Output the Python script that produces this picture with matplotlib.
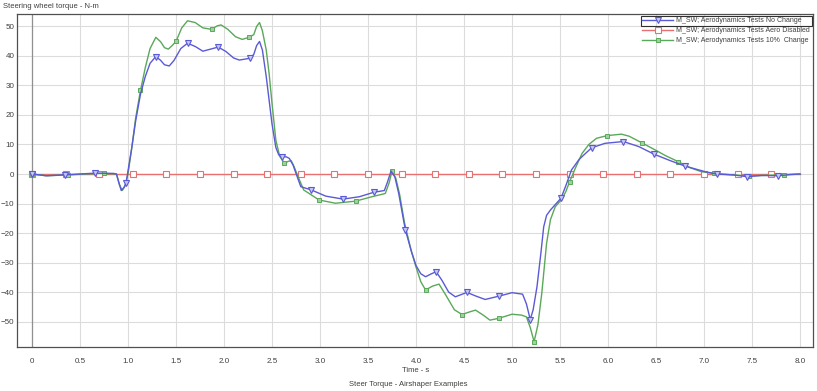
import matplotlib
matplotlib.use("Agg")
import matplotlib.pyplot as plt
from matplotlib.patches import Rectangle

# ---------------- data ----------------
blue_t = [0.00, 0.15, 0.34, 0.50, 0.66, 0.85, 0.88, 0.91, 0.93, 0.96, 0.98, 1.01, 1.04, 1.08,
          1.13, 1.18, 1.23, 1.29, 1.34, 1.38, 1.43, 1.48, 1.55, 1.62, 1.70, 1.78, 1.86, 1.94,
          2.02, 2.10, 2.16, 2.27, 2.31, 2.34, 2.37, 2.40, 2.44, 2.47, 2.50, 2.54, 2.57, 2.60,
          2.65, 2.68, 2.72, 2.75, 2.80, 2.91, 3.06, 3.24, 3.41, 3.56, 3.67, 3.70, 3.74, 3.78,
          3.82, 3.87, 3.89, 3.95, 4.00, 4.05, 4.10, 4.16, 4.21, 4.27, 4.34, 4.41, 4.53, 4.62,
          4.72, 4.86, 5.00, 5.11, 5.15, 5.19, 5.22, 5.26, 5.30, 5.33, 5.36, 5.40, 5.51, 5.56,
          5.62, 5.70, 5.83, 5.97, 6.16, 6.32, 6.48, 6.65, 6.80, 7.01, 7.13, 7.30, 7.45, 7.60,
          7.77, 7.90, 8.00]
blue_v = [0.0, -0.6, -0.3, 0.0, 0.3, 0.2, 0.0, -3.5, -5.6, -4.5, -3.0, 3.0, 9.0, 18.0,
          27.0, 33.0, 37.5, 39.8, 38.5, 37.0, 36.6, 38.5, 42.5, 44.3, 43.2, 41.6, 42.3, 43.0,
          41.5, 39.3, 38.6, 39.2, 40.5, 43.5, 44.9, 42.0, 33.0, 25.0, 17.0, 9.0, 6.5, 5.9,
          5.8, 5.3, 3.0, 0.2, -4.3, -5.4, -7.5, -8.5, -7.7, -6.2, -5.6, -3.0, 1.0, -1.0,
          -6.6, -15.6, -19.0, -26.0, -31.0, -33.8, -34.8, -33.8, -33.1, -36.0, -40.0, -41.6, -40.1, -41.3,
          -42.5, -41.4, -40.2, -40.7, -44.0, -49.3, -46.0, -38.2, -27.0, -17.9, -14.0, -12.2, -8.2, -4.0,
          1.4, 5.0, 8.9, 10.4, 11.0, 9.3, 6.7, 4.5, 2.7, 0.8, 0.0, -0.3, -0.9, -0.5,
          -0.6, -0.2, 0.0]
blue_mark_t = [0.00, 0.34, 0.66, 0.98, 1.29, 1.62, 1.94, 2.27, 2.60, 2.91, 3.24, 3.56, 3.89,
               4.21, 4.53, 4.86, 5.19, 5.51, 5.83, 6.16, 6.48, 6.80, 7.13, 7.45, 7.77]
blue_mark_v = [0.0, -0.3, 0.3, -3.2, 39.8, 44.3, 43.0, 39.2, 5.9, -5.4, -8.5, -6.2, -19.0,
               -33.1, -40.1, -41.4, -49.3, -8.2, 8.9, 11.0, 6.7, 2.7, 0.0, -0.9, -0.6]

green_t = [0.00, 0.15, 0.375, 0.55, 0.75, 0.88, 0.91, 0.94, 0.97, 1.00, 1.04, 1.08, 1.13, 1.18,
           1.23, 1.29, 1.34, 1.38, 1.42, 1.46, 1.50, 1.56, 1.62, 1.70, 1.78, 1.87, 1.93, 1.97,
           2.04, 2.12, 2.19, 2.26, 2.31, 2.34, 2.37, 2.40, 2.44, 2.47, 2.50, 2.54, 2.58, 2.63,
           2.67, 2.70, 2.73, 2.76, 2.83, 2.99, 3.16, 3.37, 3.54, 3.68, 3.72, 3.75, 3.79, 3.83,
           3.88, 3.95, 4.00, 4.05, 4.10, 4.17, 4.24, 4.31, 4.40, 4.48, 4.55, 4.62, 4.70, 4.77,
           4.86, 5.00, 5.10, 5.15, 5.19, 5.23, 5.27, 5.31, 5.36, 5.40, 5.45, 5.52, 5.56, 5.60,
           5.66, 5.73, 5.80, 5.88, 5.99, 6.14, 6.22, 6.35, 6.50, 6.60, 6.73, 6.85, 6.97, 7.10,
           7.30, 7.47, 7.60, 7.83, 8.00]
green_v = [0.0, -0.6, -0.3, 0.0, 0.2, 0.0, -3.5, -5.6, -4.0, 0.0, 9.0, 19.0, 28.3, 36.0,
           42.5, 46.3, 44.8, 42.8, 42.3, 43.5, 44.9, 49.5, 51.9, 51.3, 49.5, 49.0, 50.2, 50.5,
           49.0, 46.5, 45.6, 46.3, 47.2, 50.0, 51.3, 48.5, 42.0, 34.0, 24.0, 11.5, 6.0, 3.6,
           4.3, 4.5, 2.5, 0.0, -5.4, -8.8, -9.9, -9.2, -7.7, -6.6, -3.0, 1.0, -1.5, -7.0,
           -16.5, -26.0, -31.5, -36.5, -39.3, -38.0, -37.3, -41.0, -46.0, -47.6, -46.8, -46.1, -47.8, -49.5,
           -48.9, -47.5, -47.8, -48.4, -52.0, -56.8, -51.0, -40.4, -23.5, -15.5, -11.1, -8.5, -6.0, -2.6,
           2.0, 7.0, 10.0, 12.1, 13.0, 13.5, 12.8, 10.6, 8.0, 6.2, 4.2, 2.2, 0.8, 0.2,
           -0.3, -0.6, -0.5, -0.2, 0.0]
green_mark_t = [0.00, 0.375, 0.75, 1.13, 1.50, 1.87, 2.26, 2.63, 2.99, 3.37, 3.75, 4.10, 4.48,
                4.86, 5.23, 5.60, 5.99, 6.35, 6.73, 7.10, 7.47, 7.83]
green_mark_v = [0.0, -0.3, 0.2, 28.3, 44.9, 49.0, 46.3, 3.6, -8.8, -9.2, 1.0, -39.3, -47.6,
                -48.9, -56.8, -2.6, 13.0, 10.6, 4.2, 0.2, -0.6, -0.2]

red_t = [0.0, 8.0]
red_v = [0.0, 0.0]
red_mark_t = [0.0, 0.35, 0.70, 1.05, 1.40, 1.75, 2.10, 2.45, 2.80, 3.15, 3.50, 3.85, 4.20,
              4.55, 4.90, 5.25, 5.60, 5.95, 6.30, 6.65, 7.00, 7.35, 7.70]
red_mark_v = [0.0] * len(red_mark_t)

labels = ["M_SW; Aerodynamics Tests No Change",
          "M_SW; Aerodynamics Tests Aero Disabled",
          "M_SW; Aerodynamics Tests 10%  Change"]
x_ticks = [0, 0.5, 1.0, 1.5, 2.0, 2.5, 3.0, 3.5, 4.0, 4.5, 5.0, 5.5, 6.0, 6.5, 7.0, 7.5, 8.0]
x_tick_labels = ["0", "0.5", "1.0", "1.5", "2.0", "2.5", "3.0", "3.5", "4.0", "4.5", "5.0",
                 "5.5", "6.0", "6.5", "7.0", "7.5", "8.0"]
y_ticks = [50, 40, 30, 20, 10, 0, -10, -20, -30, -40, -50]

# ---------------- style ----------------
plt.rcParams['font.family'] = ['Liberation Sans', 'DejaVu Sans']
BLUE = "#5a5ad6"
RED = "#e87070"
GREEN = "#5aa85a"
TXT = "#404040"

fig = plt.figure(figsize=(8.17, 3.91), dpi=100)
ax = fig.add_axes([17/817, 1 - 347/391, (813 - 17)/817, (347 - 14)/391])

ax.set_xlim(-0.156, 8.135)
ax.set_ylim(-58.6, 54.2)
ax.set_xticks(x_ticks)
ax.set_xticklabels(x_tick_labels)
ax.set_yticks(y_ticks)
ax.tick_params(length=0, labelsize=5.8, colors=TXT)
ax.tick_params(axis='x', pad=8)
ax.tick_params(axis='y', pad=2)
ax.grid(True, color="#dcdcdc", linewidth=0.8)
ax.set_axisbelow(True)
ax.axvline(0, color="#909090", linewidth=0.9, zorder=1)
for s in ax.spines.values():
    s.set_color("#505050")
    s.set_linewidth(0.9)

# red
ax.plot(red_t, red_v, color=RED, linewidth=1.0, zorder=2)
ax.plot(red_mark_t, red_mark_v, linestyle='none', marker='s', markersize=4,
        markerfacecolor='white', markeredgecolor=RED, markeredgewidth=0.8, zorder=3)
# green
ax.plot(green_t, green_v, color=GREEN, linewidth=1.0, zorder=4)
ax.plot(green_mark_t, green_mark_v, linestyle='none', marker='s', markersize=3.2,
        markerfacecolor="#9fd09f", markeredgecolor=GREEN, markeredgewidth=0.7, zorder=5)
# blue
ax.plot(blue_t, blue_v, color=BLUE, linewidth=1.0, zorder=6)
ax.plot(blue_mark_t, blue_mark_v, linestyle='none', marker='v', markersize=5,
        markerfacecolor="#c8c8f4", markeredgecolor=BLUE, markeredgewidth=0.8, zorder=7)

# legend handles
hb, = ax.plot([], [], color=BLUE, linewidth=1.0, marker='v', markersize=5,
              markerfacecolor="#c8c8f4", markeredgecolor=BLUE, markeredgewidth=0.8)
hr, = ax.plot([], [], color=RED, linewidth=1.0, marker='s', markersize=4,
              markerfacecolor='white', markeredgecolor=RED, markeredgewidth=0.8)
hg, = ax.plot([], [], color=GREEN, linewidth=1.0, marker='s', markersize=3.2,
              markerfacecolor="#9fd09f", markeredgecolor=GREEN, markeredgewidth=0.7)
leg = fig.legend([hb, hr, hg], labels, loc='upper left',
                 bbox_to_anchor=(642/817, 1 - 17.5/391), bbox_transform=fig.transFigure,
                 frameon=False, fontsize=5.0, handlelength=4.5, handletextpad=0.4,
                 labelspacing=0.42, borderaxespad=0, borderpad=0, labelcolor=TXT)
fig.add_artist(Rectangle((641/817, 1 - 26/391), (812 - 641)/817, 10/391,
                         transform=fig.transFigure, fill=False, edgecolor="#303030",
                         linewidth=0.8))

fig.text(3/817, 1 - 6/391, "Steering wheel torque - N-m", fontsize=5.5, color=TXT,
         ha='left', va='center')
fig.text(416/817, 1 - 370/391, "Time - s", fontsize=5.5, color=TXT, ha='center', va='center')
fig.text(408/817, 1 - 384/391, "Steer Torque - Airshaper Examples", fontsize=5.5, color=TXT,
         ha='center', va='center')

fig.savefig("out.png", dpi=100)
